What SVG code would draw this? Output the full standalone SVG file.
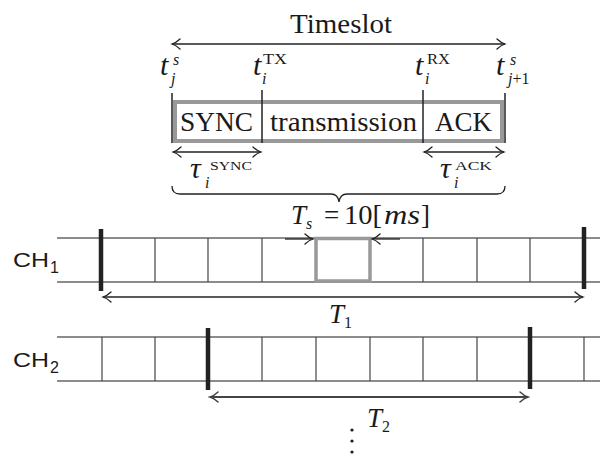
<svg xmlns="http://www.w3.org/2000/svg" width="600" height="455" viewBox="0 0 600 455">
<defs>
<marker id="ah" markerUnits="userSpaceOnUse" viewBox="-10 -6 12 12" markerWidth="12" markerHeight="12" refX="0" refY="0" orient="auto-start-reverse">
<path d="M-8,-5 Q-4,-1.2 0,0 Q-4,1.2 -8,5" fill="none" stroke="#222" stroke-width="1.3" stroke-linecap="round"/>
</marker>
<marker id="ah2" markerUnits="userSpaceOnUse" viewBox="-10 -6 12 12" markerWidth="12" markerHeight="12" refX="0" refY="0" orient="auto-start-reverse">
<path d="M-8,-5 Q-4,-1.2 0,0 Q-4,1.2 -8,5" fill="none" stroke="#444" stroke-width="1.5" stroke-linecap="round"/>
</marker>
</defs>
<style>
.s{font-family:"Liberation Serif","Times New Roman",serif;fill:#1a1a1a}
.m{font-family:"Liberation Serif","Times New Roman",serif;font-style:italic;fill:#1a1a1a}
.sans{font-family:"Liberation Sans",Arial,sans-serif;fill:#1a1a1a}
.big{font-size:27px}
.tt{font-size:30px}
.sup{font-size:15px}
.sub{font-size:16px}
.row{stroke:#666;stroke-width:1.5}
.div{stroke:#444;stroke-width:1.2}
.bar{stroke:#222;stroke-width:4.5}
.tick{stroke:#222;stroke-width:1.5}
.arr{stroke:#222;stroke-width:1.3;fill:none}
</style>
<rect width="600" height="455" fill="#fff"/>

<g id="timeslot">
<text class="s big" x="341" y="33" text-anchor="middle" textLength="102" lengthAdjust="spacingAndGlyphs">Timeslot</text>
</g>

<g id="time-labels">
<text class="m tt" x="160" y="75">t</text>
<text class="m sub" x="173" y="65">s</text>
<text class="m sub" x="171" y="84">j</text>
<text class="m tt" x="253" y="75">t</text>
<text class="s sup" x="263" y="64" textLength="24" lengthAdjust="spacingAndGlyphs">TX</text>
<text class="m sub" x="262" y="84">i</text>
<text class="m tt" x="415" y="75">t</text>
<text class="s sup" x="427" y="64" textLength="23" lengthAdjust="spacingAndGlyphs">RX</text>
<text class="m sub" x="425" y="84">i</text>
<text class="m tt" x="496" y="75">t</text>
<text class="m sub" x="510" y="65">s</text>
<text x="508" y="84"><tspan class="m sub">j</tspan><tspan class="s sub">+1</tspan></text>
</g>

<g id="slot-box">
<rect x="175" y="102" width="327" height="39" fill="#fff" stroke="#999" stroke-width="4"/>
<line class="tick" x1="172" y1="93" x2="172" y2="143"/>
<line class="tick" x1="262" y1="90" x2="262" y2="143"/>
<line class="tick" x1="423" y1="90" x2="423" y2="143"/>
<line class="tick" x1="505" y1="93" x2="505" y2="143"/>
<text class="s big" x="180" y="131" textLength="73" lengthAdjust="spacingAndGlyphs">SYNC</text>
<text class="s big" x="270" y="131" textLength="147" lengthAdjust="spacingAndGlyphs">transmission</text>
<text class="s big" x="435" y="131" textLength="57" lengthAdjust="spacingAndGlyphs">ACK</text>
</g>

<g id="tau-labels">
<text class="m tt" x="190" y="178">τ</text>
<text class="s" font-size="13" x="210" y="170" textLength="42" lengthAdjust="spacingAndGlyphs">SYNC</text>
<text class="m sub" x="205" y="188">i</text>
<text class="m tt" x="440" y="178">τ</text>
<text class="s" font-size="13" x="455" y="170" textLength="37" lengthAdjust="spacingAndGlyphs">ACK</text>
<text class="m sub" x="454" y="188">i</text>
</g>

<g id="ts-label">
<text class="m big" x="291" y="224">T</text>
<text class="m sub" x="306" y="229">s</text>
<text class="s big" x="324" y="224">=</text>
<text class="s big" x="344" y="224" textLength="38" lengthAdjust="spacingAndGlyphs">10[</text>
<text class="m big" x="384" y="224" textLength="36" lengthAdjust="spacingAndGlyphs">ms</text>
<text class="s big" x="421" y="224">]</text>
</g>

<g id="ch1">
<text class="sans" font-size="21" x="13" y="267" textLength="36" lengthAdjust="spacingAndGlyphs">CH</text>
<text class="sans" font-size="16" x="50" y="273">1</text>
<line class="row" x1="57" y1="238" x2="600" y2="238"/>
<line class="row" x1="57" y1="282" x2="600" y2="282"/>
<line class="div" x1="155" y1="238" x2="155" y2="282"/>
<line class="div" x1="208" y1="238" x2="208" y2="282"/>
<line class="div" x1="262" y1="238" x2="262" y2="282"/>
<line class="div" x1="423" y1="238" x2="423" y2="282"/>
<line class="div" x1="477" y1="238" x2="477" y2="282"/>
<line class="div" x1="530" y1="238" x2="530" y2="282"/>
<rect x="316" y="238.5" width="54" height="42.5" fill="#fff" stroke="#999" stroke-width="3.5"/>
<line class="bar" x1="101" y1="229" x2="101" y2="291"/>
<line class="bar" x1="584" y1="227" x2="584" y2="289"/>
</g>

<g id="ch2">
<text class="sans" font-size="21" x="13" y="367" textLength="36" lengthAdjust="spacingAndGlyphs">CH</text>
<text class="sans" font-size="16" x="50" y="373">2</text>
<line class="row" x1="57" y1="337" x2="600" y2="337"/>
<line class="row" x1="57" y1="381" x2="600" y2="381"/>
<line class="div" x1="102" y1="337" x2="102" y2="381"/>
<line class="div" x1="155" y1="337" x2="155" y2="381"/>
<line class="div" x1="262" y1="337" x2="262" y2="381"/>
<line class="div" x1="316" y1="337" x2="316" y2="381"/>
<line class="div" x1="370" y1="337" x2="370" y2="381"/>
<line class="div" x1="423" y1="337" x2="423" y2="381"/>
<line class="div" x1="477" y1="337" x2="477" y2="381"/>
<line class="div" x1="584" y1="337" x2="584" y2="381"/>
<line class="bar" x1="208" y1="328" x2="208" y2="390"/>
<line class="bar" x1="530" y1="327" x2="530" y2="389"/>
</g>

<g id="period-labels">
<text class="m big" x="329" y="323">T</text>
<text class="s sub" x="344" y="328">1</text>
<text class="m big" x="367" y="427">T</text>
<text class="s sub" x="382" y="432">2</text>
</g>

<g id="ellipsis" fill="#1a1a1a">
<circle cx="352" cy="430" r="1.6"/>
<circle cx="352" cy="441" r="1.6"/>
<circle cx="352" cy="452" r="1.6"/>
</g>

<g id="connectors">
<line class="arr" x1="172" y1="44" x2="505" y2="44" marker-start="url(#ah)" marker-end="url(#ah)"/>
<line class="arr" x1="173" y1="152" x2="261" y2="152" marker-start="url(#ah)" marker-end="url(#ah)"/>
<line class="arr" x1="424" y1="152" x2="504" y2="152" marker-start="url(#ah)" marker-end="url(#ah)"/>
<path class="arr" d="M172,186 Q172,194 180,194 L331,194 Q338,194 339,202 Q340,194 347,194 L497,194 Q505,194 505,186"/>
<line class="arr" x1="285" y1="239" x2="313" y2="239" marker-end="url(#ah)"/>
<line class="arr" x1="400" y1="239" x2="372" y2="239" marker-end="url(#ah)"/>
<line class="arr" x1="103" y1="297" x2="583" y2="297" marker-start="url(#ah)" marker-end="url(#ah)"/>
<line x1="210" y1="397" x2="528" y2="397" stroke="#444" stroke-width="1.8" marker-start="url(#ah2)" marker-end="url(#ah2)"/>
</g>
</svg>
